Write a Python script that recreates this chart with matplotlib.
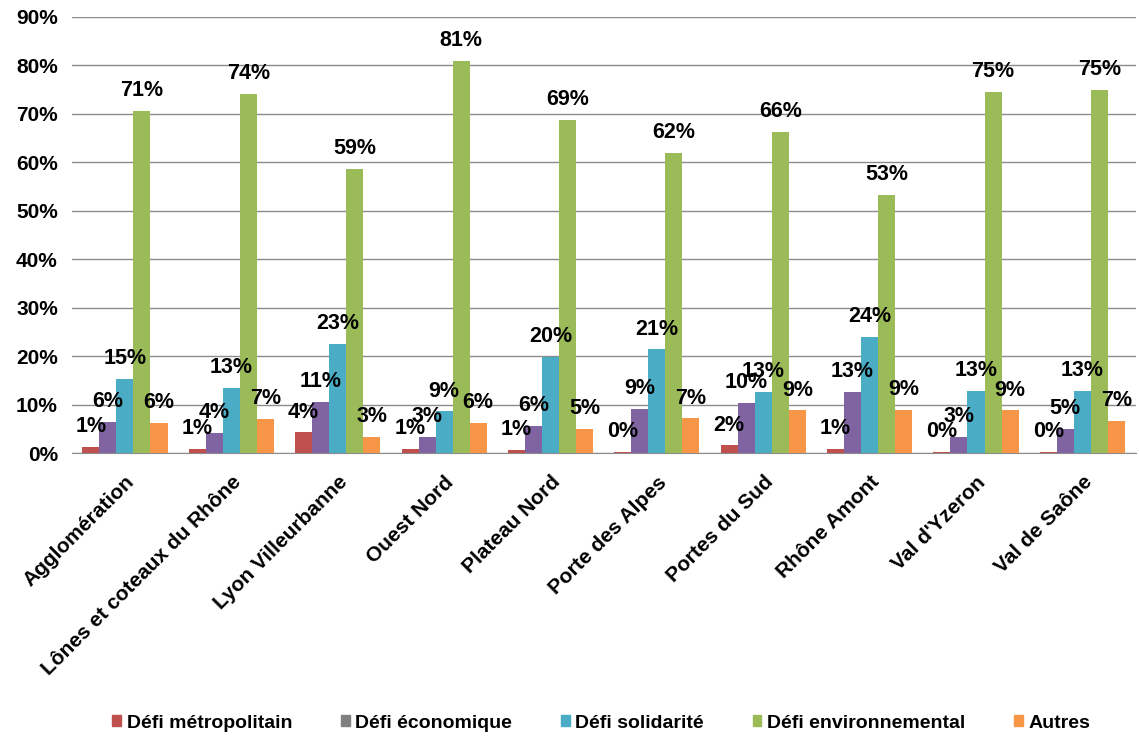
import matplotlib.pyplot as plt
import matplotlib.patches as mpatches
import numpy as np

plt.rcParams['font.family'] = ['Liberation Sans', 'DejaVu Sans']
plt.rcParams['font.weight'] = 'bold'

categories = ["Agglomération", "Lônes et coteaux du Rhône", "Lyon Villeurbanne",
              "Ouest Nord", "Plateau Nord", "Porte des Alpes", "Portes du Sud",
              "Rhône Amont", "Val d'Yzeron", "Val de Saône"]
series_names = ["Défi métropolitain", "Défi économique", "Défi solidarité",
                "Défi environnemental", "Autres"]

metro = [1.3, 0.9, 4.3, 0.9, 0.7, 0.2, 1.6, 0.9, 0.2, 0.3]
eco = [6.4, 4.2, 10.6, 3.4, 5.7, 9.2, 10.3, 12.6, 3.3, 5.0]
soli = [15.3, 13.4, 22.6, 8.6, 19.8, 21.4, 12.6, 24.0, 12.9, 12.9]
env = [70.6, 74.2, 58.6, 80.9, 68.8, 62.0, 66.3, 53.3, 74.6, 75.0]
autres = [6.3, 7.0, 3.3, 6.3, 5.0, 7.2, 8.8, 9.0, 8.8, 6.6]

colors = ["#C0504D", "#8064A2", "#4BACC6", "#9BBB59", "#F79646"]
legend_colors = ["#C0504D", "#808080", "#4BACC6", "#9BBB59", "#F79646"]

fig = plt.figure(figsize=(11.39, 7.38), dpi=100)
ax = fig.add_axes([0.063, 0.386, 0.934, 0.591])

x = np.arange(len(categories))
w = 0.16
for i, vals in enumerate([metro, eco, soli, env, autres]):
    pos = x + (i - 2) * w
    ax.bar(pos, vals, width=w, color=colors[i], zorder=3)
    for p, v in zip(pos, vals):
        ax.annotate(f"{v:.0f}%", (p, v), xytext=(0, 7), textcoords="offset points",
                    ha="center", va="bottom", fontsize=15.5, fontweight="bold", zorder=4)

ax.set_xlim(-0.5, len(categories) - 0.5)
ax.set_ylim(0, 90)
ax.set_yticks(range(0, 91, 10))
ax.set_yticklabels([f"{t}%" for t in range(0, 91, 10)], fontsize=15, fontweight="bold")
ax.yaxis.grid(True, color="#8c8c8c", linewidth=1, zorder=0)
ax.tick_params(axis="y", length=0, pad=10)
ax.tick_params(axis="x", length=0, pad=14)
ax.set_xticks(x)
ax.set_xticklabels(categories, rotation=45, ha="right", rotation_mode="anchor",
                   fontsize=15, fontweight="bold")
for s in ["top", "right", "left"]:
    ax.spines[s].set_visible(False)
ax.spines["bottom"].set_color("#8c8c8c")

handles = [mpatches.Patch(color=c, label=n) for c, n in zip(legend_colors, series_names)]
fig.legend(handles=handles, loc="lower center", bbox_to_anchor=(0.528, -0.015), ncol=5,
           frameon=False, prop={"size": 14, "weight": "bold"},
           handlelength=0.45, handleheight=0.45, handletextpad=0.3, columnspacing=2.5)

fig.savefig("out.png", dpi=100)
